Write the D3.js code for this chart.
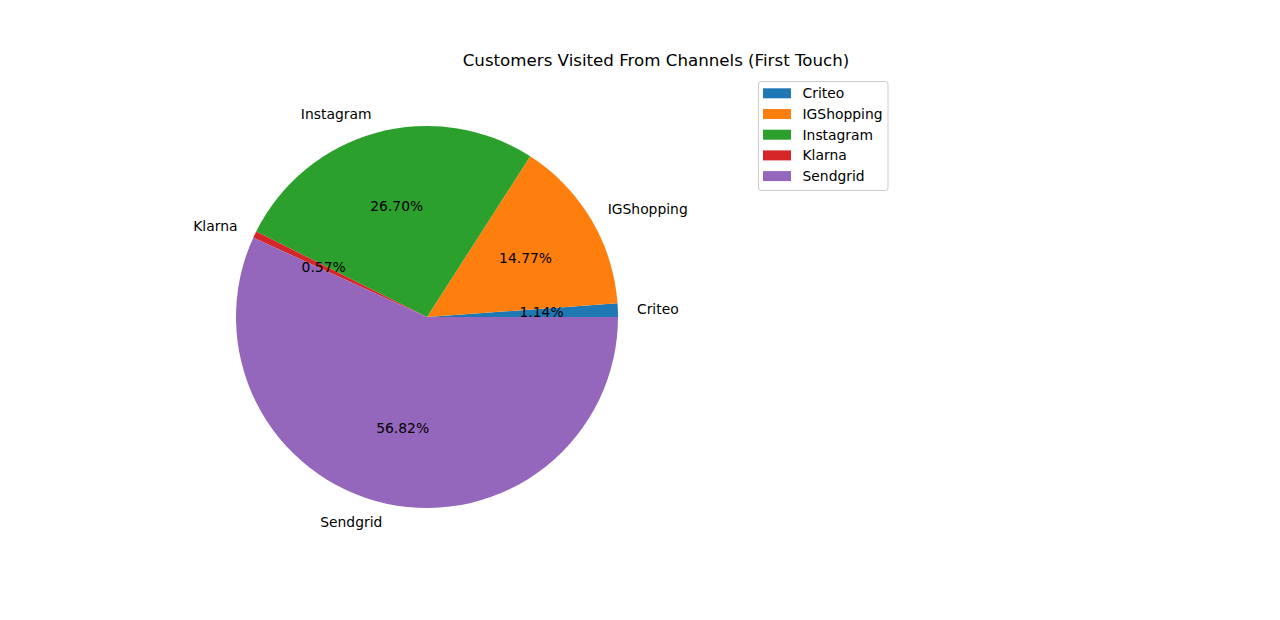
<!DOCTYPE html>
<html><head><meta charset="utf-8">
<script src="https://cdn.jsdelivr.net/npm/d3@7"></script>
<style>body{margin:0;background:#fff;} text{font-family:"DejaVu Sans",sans-serif;}</style>
</head><body>
<svg id="chart" width="1280" height="620"></svg>
<script>
const categories = ["Criteo", "IGShopping", "Instagram", "Klarna", "Sendgrid"];
const values = [2, 26, 47, 1, 100];
const colors = ["#1f77b4", "#ff7f0e", "#2ca02c", "#d62728", "#9467bd"];
const title = "Customers Visited From Channels (First Touch)";

const svg = d3.select("#chart");
const cx = 427, cy = 317, R = 191;
const fs = 13.89;

svg.append("text").attr("x", 656).attr("y", 60).attr("text-anchor", "middle")
  .attr("dominant-baseline", "central").attr("font-size", 16.67).text(title);

const total = d3.sum(values);
const pie = d3.pie().sort(null).startAngle(Math.PI / 2).endAngle(Math.PI / 2 - 2 * Math.PI);
const arcs = pie(values);
const arc = d3.arc().innerRadius(0).outerRadius(R);
const g = svg.append("g").attr("transform", `translate(${cx},${cy})`);
g.selectAll("path").data(arcs).join("path").attr("d", arc).attr("fill", (d, i) => colors[i]);

function pos(d, r) {
  const a = (d.startAngle + d.endAngle) / 2;
  return [Math.sin(a) * r, -Math.cos(a) * r];
}
g.selectAll("text.lab").data(arcs).join("text").attr("class", "lab")
  .attr("x", d => pos(d, 1.1 * R)[0]).attr("y", d => pos(d, 1.1 * R)[1] - 0.5)
  .attr("text-anchor", d => pos(d, 1.1 * R)[0] > 0 ? "start" : "end")
  .attr("dominant-baseline", "central").attr("font-size", fs)
  .text((d, i) => categories[i]);
g.selectAll("text.pct").data(arcs).join("text").attr("class", "pct")
  .attr("x", d => pos(d, 0.6 * R)[0]).attr("y", d => pos(d, 0.6 * R)[1] - 0.5)
  .attr("text-anchor", "middle").attr("dominant-baseline", "central").attr("font-size", fs)
  .text(d => (d.value / total * 100).toFixed(2) + "%");

// legend
const lg = svg.append("g").attr("transform", "translate(758,81)");
lg.append("rect").attr("x", 0.5).attr("y", 0.5).attr("width", 129.5).attr("height", 109)
  .attr("rx", 2.5).attr("fill", "#fff").attr("fill-opacity", 0.8).attr("stroke", "#cccccc");
const rows = lg.selectAll("g.row").data(categories).join("g").attr("class", "row")
  .attr("transform", (d, i) => `translate(0,${12.3 + i * 20.7})`);
rows.append("rect").attr("x", 5).attr("y", -5).attr("width", 28).attr("height", 10)
  .attr("fill", (d, i) => colors[i]);
rows.append("text").attr("x", 44.5).attr("y", 0).attr("dominant-baseline", "central")
  .attr("font-size", fs).text(d => d);
</script>
</body></html>
